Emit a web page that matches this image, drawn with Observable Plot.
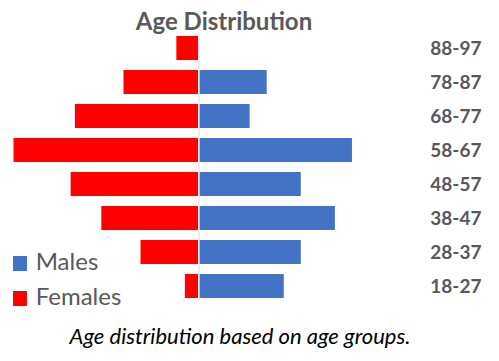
<!DOCTYPE html>
<html>
<head>
<meta charset="utf-8">
<script src="https://cdn.jsdelivr.net/npm/d3@7"></script>
<script src="https://cdn.jsdelivr.net/npm/@observablehq/plot@0.6"></script>
<style>
  html, body { margin: 0; padding: 0; background: #fff; }
  #wrap { position: relative; width: 499px; height: 361px; overflow: hidden; font-family: Lato, sans-serif; }
  #wrap svg { position: absolute; left: 0; top: 0; }
  .abs { position: absolute; white-space: nowrap; line-height: 1; }
  #title { font-weight: bold; font-size: 24px; color: #595959; top: 8.7px; left: 224px; transform: translateX(-50%); }
  .leg { font-size: 24px; color: #595959; left: 35.7px; }
  .sw { position: absolute; width: 14.7px; height: 14.7px; left: 12.7px; }
  #caption { font-style: italic; font-size: 22px; color: #000; top: 325px; left: 240px; transform: translateX(-50%); }
</style>
</head>
<body>
<div id="wrap"></div>
<script>
const ageGroups = ["88-97", "78-87", "68-77", "58-67", "48-57", "38-47", "28-37", "18-27"];
const males =   [0, 4, 3, 9, 6, 8, 6, 5];
const females = [1.3, 4.4, 7.25, 10.85, 7.5, 5.7, 3.4, 0.8];
const seriesNames = ["Males", "Females"];
const seriesColors = ["#4472C4", "#FF0000"];
const titleText = "Age Distribution";
const captionText = "Age distribution based on age groups.";

const rows = ageGroups.map((a, i) => ({age: a, male: males[i], female: -females[i]}));

const chart = Plot.plot({
  width: 499,
  height: 361,
  marginLeft: 0,
  marginRight: 18,
  marginTop: 29.5,
  marginBottom: 56.3,
  style: {fontFamily: "Lato, sans-serif", background: "transparent"},
  x: {domain: [-198.5 / 17.05, (481 - 198.5) / 17.05], axis: null},
  y: {domain: ageGroups, paddingInner: 0.28, paddingOuter: 0.14, label: null},
  marks: [
    Plot.barX(rows, {y: "age", x1: 0, x2: "female", fill: seriesColors[1], insetLeft: 0, insetRight: 0.5}),
    Plot.barX(rows.filter(d => d.male > 0), {y: "age", x1: 0, x2: "male", fill: seriesColors[0], insetLeft: 1}),
    Plot.ruleX([0], {stroke: "#d9d9d9", strokeWidth: 1, insetTop: 4.8, insetBottom: 4.8}),
    Plot.axisY({anchor: "right", tickSize: 0, tickPadding: 0, textAnchor: "end", label: null,
      fontSize: 19, fontWeight: "bold", fill: "#595959"})
  ]
});

const wrap = document.getElementById("wrap");
wrap.appendChild(chart);

const t = document.createElement("div");
t.id = "title"; t.className = "abs"; t.textContent = titleText;
wrap.appendChild(t);

const legTops = [249.4, 283.7];
const swTops = [256, 291];
seriesNames.forEach((n, i) => {
  const s = document.createElement("div");
  s.className = "sw"; s.style.top = swTops[i] + "px"; s.style.background = seriesColors[i];
  wrap.appendChild(s);
  const l = document.createElement("div");
  l.className = "abs leg"; l.style.top = legTops[i] + "px"; l.textContent = n;
  wrap.appendChild(l);
});

const c = document.createElement("div");
c.id = "caption"; c.className = "abs"; c.textContent = captionText;
wrap.appendChild(c);
</script>
</body>
</html>
